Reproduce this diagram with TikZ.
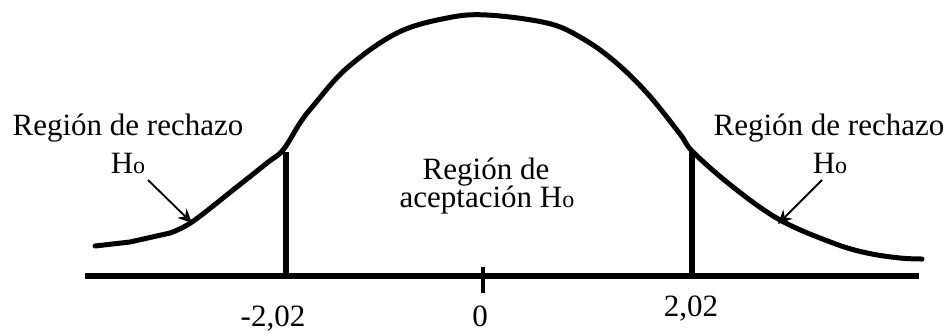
\documentclass[tikz,border=0pt]{standalone}
\usepackage{fontspec}
\setmainfont{Liberation Serif}
\usetikzlibrary{arrows.meta}
\begin{document}
\begin{tikzpicture}[x=1pt,y=-1pt,
  lbl/.style={font=\fontsize{31}{33}\selectfont, inner sep=0pt, anchor=base},
  curveline/.style={line width=5pt, line cap=round, line join=round},
  axisline/.style={line width=5.5pt},
  barline/.style={line width=5.5pt},
  pointer/.style={line width=1.8pt, -{Stealth[length=14pt,width=13pt]}}]
\useasboundingbox (0,0) rectangle (950,333);
% axis
\coordinate (axL) at (85,276);
\coordinate (axR) at (919,276);
\draw[axisline] (axL) -- (axR);
\coordinate (tkT) at (483,267);
\coordinate (tkB) at (483,293);
\draw[line width=3.5pt] (tkT) -- (tkB);
% bars
\coordinate (bLt) at (286,152);
\coordinate (bLb) at (286,278);
\coordinate (bRt) at (692,152);
\coordinate (bRb) at (692,278);
\draw[barline] (bLt) -- (bLb);
\draw[barline] (bRt) -- (bRb);
% curve
\draw[curveline] (95,246) -- (130,242) -- (170,233);
\draw[curveline] plot[smooth, tension=0.6] coordinates {(170,233) (192,222) (233,190) (267,163) (283,150) (300,123) (313,106) (347,68) (397,33) (447,18) (487,15) (547,23) (580,37) (613,60) (647,93) (680,134) (693,152) (733,187) (780,220) (833,243) (867,253) (900,258) (922,259)};
% labels
\node[lbl] (rl) at (128,135) {Región de rechazo};
\node[lbl] (hl) at (128,173) {H{\fontsize{24}{26}\selectfont o}};
\node[lbl] (rr) at (829,135) {Región de rechazo};
\node[lbl] (hr) at (830,173) {H{\fontsize{24}{26}\selectfont o}};
\node[lbl] (c1) at (486,179) {Región de};
\node[lbl] (c2) at (487,207) {aceptación H{\fontsize{24}{26}\selectfont o}};
\node[lbl] (m2) at (273,326) {-2,02};
\node[lbl] (z0) at (480,326) {0};
\node[lbl] (p2) at (691,316) {2,02};
% pointers
\coordinate (aLs) at (148,180);
\coordinate (aLe) at (192,223);
\coordinate (aRs) at (822,180);
\coordinate (aRe) at (778,224);
\draw[pointer] (aLs) -- (aLe);
\draw[pointer] (aRs) -- (aRe);
\end{tikzpicture}
\end{document}
